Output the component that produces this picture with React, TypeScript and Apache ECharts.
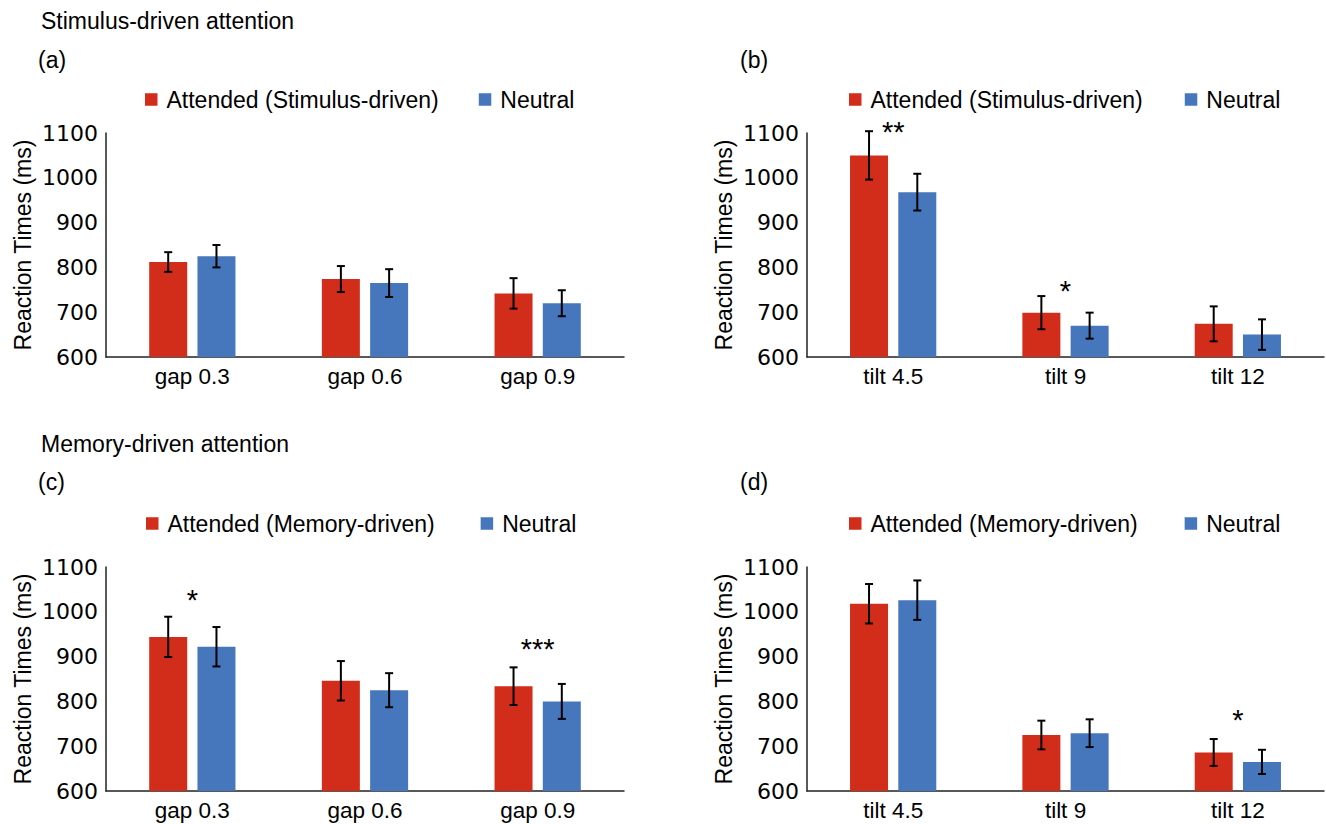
import React, { useEffect, useRef } from "react";
import * as echarts from "echarts";

// ---- Data ----
const gapCategories = ["gap 0.3", "gap 0.6", "gap 0.9"];
const tiltCategories = ["tilt 4.5", "tilt 9", "tilt 12"];
const yMin = 600;
const yMax = 1100;
const yStep = 100;

const seriesStimulus = "Attended (Stimulus-driven)";
const seriesMemory = "Attended (Memory-driven)";
const seriesNeutral = "Neutral";

// (a) Stimulus-driven, gap
const aAttended = [812, 774, 742];
const aAttendedErr = [22, 29, 34];
const aNeutral = [825, 765, 720];
const aNeutralErr = [25, 31, 29];
const aSigCats: number[] = [];
const aSigValues: number[] = [];
const aSigLabels: string[] = [];

// (b) Stimulus-driven, tilt
const bAttended = [1050, 699, 674];
const bAttendedErr = [54, 37, 39];
const bNeutral = [968, 670, 650];
const bNeutralErr = [41, 29, 34];
const bSigCats = [0, 1];
const bSigValues = [1118, 763];
const bSigLabels = ["**", "*"];

// (c) Memory-driven, gap
const cAttended = [944, 846, 834];
const cAttendedErr = [45, 44, 42];
const cNeutral = [922, 825, 800];
const cNeutralErr = [44, 38, 39];
const cSigCats = [0, 2];
const cSigValues = [1042, 932];
const cSigLabels = ["*", "***"];

// (d) Memory-driven, tilt
const dAttended = [1018, 725, 686];
const dAttendedErr = [44, 32, 30];
const dNeutral = [1026, 729, 665];
const dNeutralErr = [44, 31, 27];
const dSigCats = [2];
const dSigValues = [775];
const dSigLabels = ["*"];

// ---- Styles ----
const RED = "#D22D1A";
const BLUE = "#4677BC";
const ARIAL = "Liberation Sans, Arial, sans-serif";
const WIDE = "DejaVu Sans, Verdana, sans-serif";
const BAR_W = 38;
const BAR_GAP = 0.27;

type Panel = {
  cats: string[];
  attName: string;
  att: number[];
  attErr: number[];
  neu: number[];
  neuErr: number[];
  sigCats: number[];
  sigValues: number[];
  sigLabels: string[];
  grid: { left: number; top: number; width: number; height: number };
  legend: { left: number; top: number; itemGap: number };
};

const panels: Panel[] = [
  {
    cats: gapCategories, attName: seriesStimulus,
    att: aAttended, attErr: aAttendedErr, neu: aNeutral, neuErr: aNeutralErr,
    sigCats: aSigCats, sigValues: aSigValues, sigLabels: aSigLabels,
    grid: { left: 106, top: 133, width: 518, height: 224 },
    legend: { left: 145, top: 88, itemGap: 40 },
  },
  {
    cats: tiltCategories, attName: seriesStimulus,
    att: bAttended, attErr: bAttendedErr, neu: bNeutral, neuErr: bNeutralErr,
    sigCats: bSigCats, sigValues: bSigValues, sigLabels: bSigLabels,
    grid: { left: 807, top: 133, width: 517, height: 224 },
    legend: { left: 849, top: 88, itemGap: 42 },
  },
  {
    cats: gapCategories, attName: seriesMemory,
    att: cAttended, attErr: cAttendedErr, neu: cNeutral, neuErr: cNeutralErr,
    sigCats: cSigCats, sigValues: cSigValues, sigLabels: cSigLabels,
    grid: { left: 106, top: 567, width: 518, height: 224 },
    legend: { left: 146, top: 512, itemGap: 46 },
  },
  {
    cats: tiltCategories, attName: seriesMemory,
    att: dAttended, attErr: dAttendedErr, neu: dNeutral, neuErr: dNeutralErr,
    sigCats: dSigCats, sigValues: dSigValues, sigLabels: dSigLabels,
    grid: { left: 807, top: 567, width: 517, height: 224 },
    legend: { left: 849, top: 512, itemGap: 47 },
  },
];

function errorSeries(i: number, means: number[], errs: number[], side: number) {
  const dx = (side * (BAR_W + BAR_W * BAR_GAP)) / 2;
  return {
    type: "custom",
    xAxisIndex: i,
    yAxisIndex: i,
    clip: false,
    z: 5,
    silent: true,
    encode: { x: 0, y: 1 },
    data: means.map((m, k) => [k, m, errs[k]]),
    renderItem: (_p: any, api: any) => {
      const cat = api.value(0);
      const mean = api.value(1);
      const err = api.value(2);
      const top = api.coord([cat, mean + err]);
      const bot = api.coord([cat, mean - err]);
      const x = top[0] + dx;
      const st = { stroke: "#000", lineWidth: 2 };
      return {
        type: "group",
        children: [
          { type: "line", shape: { x1: x, y1: top[1], x2: x, y2: bot[1] }, style: st },
          { type: "line", shape: { x1: x - 4, y1: top[1], x2: x + 4, y2: top[1] }, style: st },
          { type: "line", shape: { x1: x - 4, y1: bot[1], x2: x + 4, y2: bot[1] }, style: st },
        ],
      };
    },
  };
}

function sigSeries(i: number, p: Panel) {
  return {
    type: "custom",
    xAxisIndex: i,
    yAxisIndex: i,
    clip: false,
    z: 6,
    silent: true,
    encode: { x: 0, y: 1 },
    data: p.sigCats.map((c, k) => [c, p.sigValues[k]]),
    renderItem: (params: any, api: any) => {
      const pt = api.coord([api.value(0), api.value(1)]);
      return {
        type: "text",
        x: pt[0],
        y: pt[1] + 7,
        style: {
          text: p.sigLabels[params.dataIndex],
          fill: "#000",
          fontSize: 29,
          fontFamily: ARIAL,
          align: "center",
          verticalAlign: "middle",
        },
      };
    },
  };
}

function buildOption() {
  const titleStyle = { fontSize: 23, fontWeight: "normal", color: "#000", fontFamily: ARIAL };
  const titles = [
    { text: "Stimulus-driven attention", left: 41, top: 9 },
    { text: "(a)", left: 38, top: 48 },
    { text: "(b)", left: 740, top: 48 },
    { text: "Memory-driven attention", left: 41, top: 432 },
    { text: "(c)", left: 38, top: 470 },
    { text: "(d)", left: 740, top: 470 },
  ].map((t) => ({ ...t, padding: 0, textStyle: titleStyle }));

  const grids = panels.map((p) => ({ ...p.grid, containLabel: false }));
  const xAxes = panels.map((p, i) => ({
    type: "category",
    gridIndex: i,
    data: p.cats,
    axisLine: { show: true, lineStyle: { color: "#222", width: 1.5 } },
    axisTick: { show: false },
    axisLabel: { color: "#000", fontSize: 22.5, fontFamily: ARIAL, margin: 8 },
    splitLine: { show: false },
  }));
  const yAxes = panels.map((_p, i) => ({
    type: "value",
    gridIndex: i,
    min: yMin,
    max: yMax,
    interval: yStep,
    name: "Reaction Times (ms)",
    nameLocation: "middle",
    nameGap: 72,
    nameTextStyle: { color: "#000", fontSize: 23, fontFamily: ARIAL },
    axisLine: { show: true, lineStyle: { color: "#222", width: 1.5 } },
    axisTick: { show: false },
    axisLabel: {
      color: "#000",
      fontSize: 22,
      fontFamily: WIDE,
      margin: 8,
      formatter: (v: number) => String(v),
    },
    splitLine: { show: false },
  }));
  const legends = panels.map((p) => ({
    left: p.legend.left,
    top: p.legend.top,
    itemGap: p.legend.itemGap,
    padding: 0,
    icon: "rect",
    itemWidth: 12.5,
    itemHeight: 12.5,
    data: [p.attName, seriesNeutral],
    selectedMode: false,
    textStyle: { color: "#000", fontSize: 23, fontFamily: ARIAL, padding: [0, 0, 0, 4] },
  }));

  const series: any[] = [];
  panels.forEach((p, i) => {
    series.push({
      name: p.attName,
      type: "bar",
      xAxisIndex: i,
      yAxisIndex: i,
      data: p.att,
      barWidth: BAR_W,
      barGap: `${BAR_GAP * 100}%`,
      itemStyle: { color: RED },
      silent: true,
    });
    series.push({
      name: seriesNeutral,
      type: "bar",
      xAxisIndex: i,
      yAxisIndex: i,
      data: p.neu,
      barWidth: BAR_W,
      barGap: `${BAR_GAP * 100}%`,
      itemStyle: { color: BLUE },
      silent: true,
    });
    series.push(errorSeries(i, p.att, p.attErr, -1));
    series.push(errorSeries(i, p.neu, p.neuErr, 1));
    if (p.sigCats.length) series.push(sigSeries(i, p));
  });

  return {
    animation: false,
    backgroundColor: "#fff",
    title: titles,
    grid: grids,
    xAxis: xAxes,
    yAxis: yAxes,
    legend: legends,
    tooltip: { show: false },
    series,
  };
}

export default function App() {
  const ref = useRef<HTMLDivElement>(null);
  useEffect(() => {
    document.body.style.margin = "0";
    if (!ref.current) return;
    const chart = echarts.init(ref.current, undefined, { renderer: "svg" });
    chart.setOption(buildOption() as any);
    return () => chart.dispose();
  }, []);
  return <div ref={ref} style={{ width: 1326, height: 824 }} />;
}
